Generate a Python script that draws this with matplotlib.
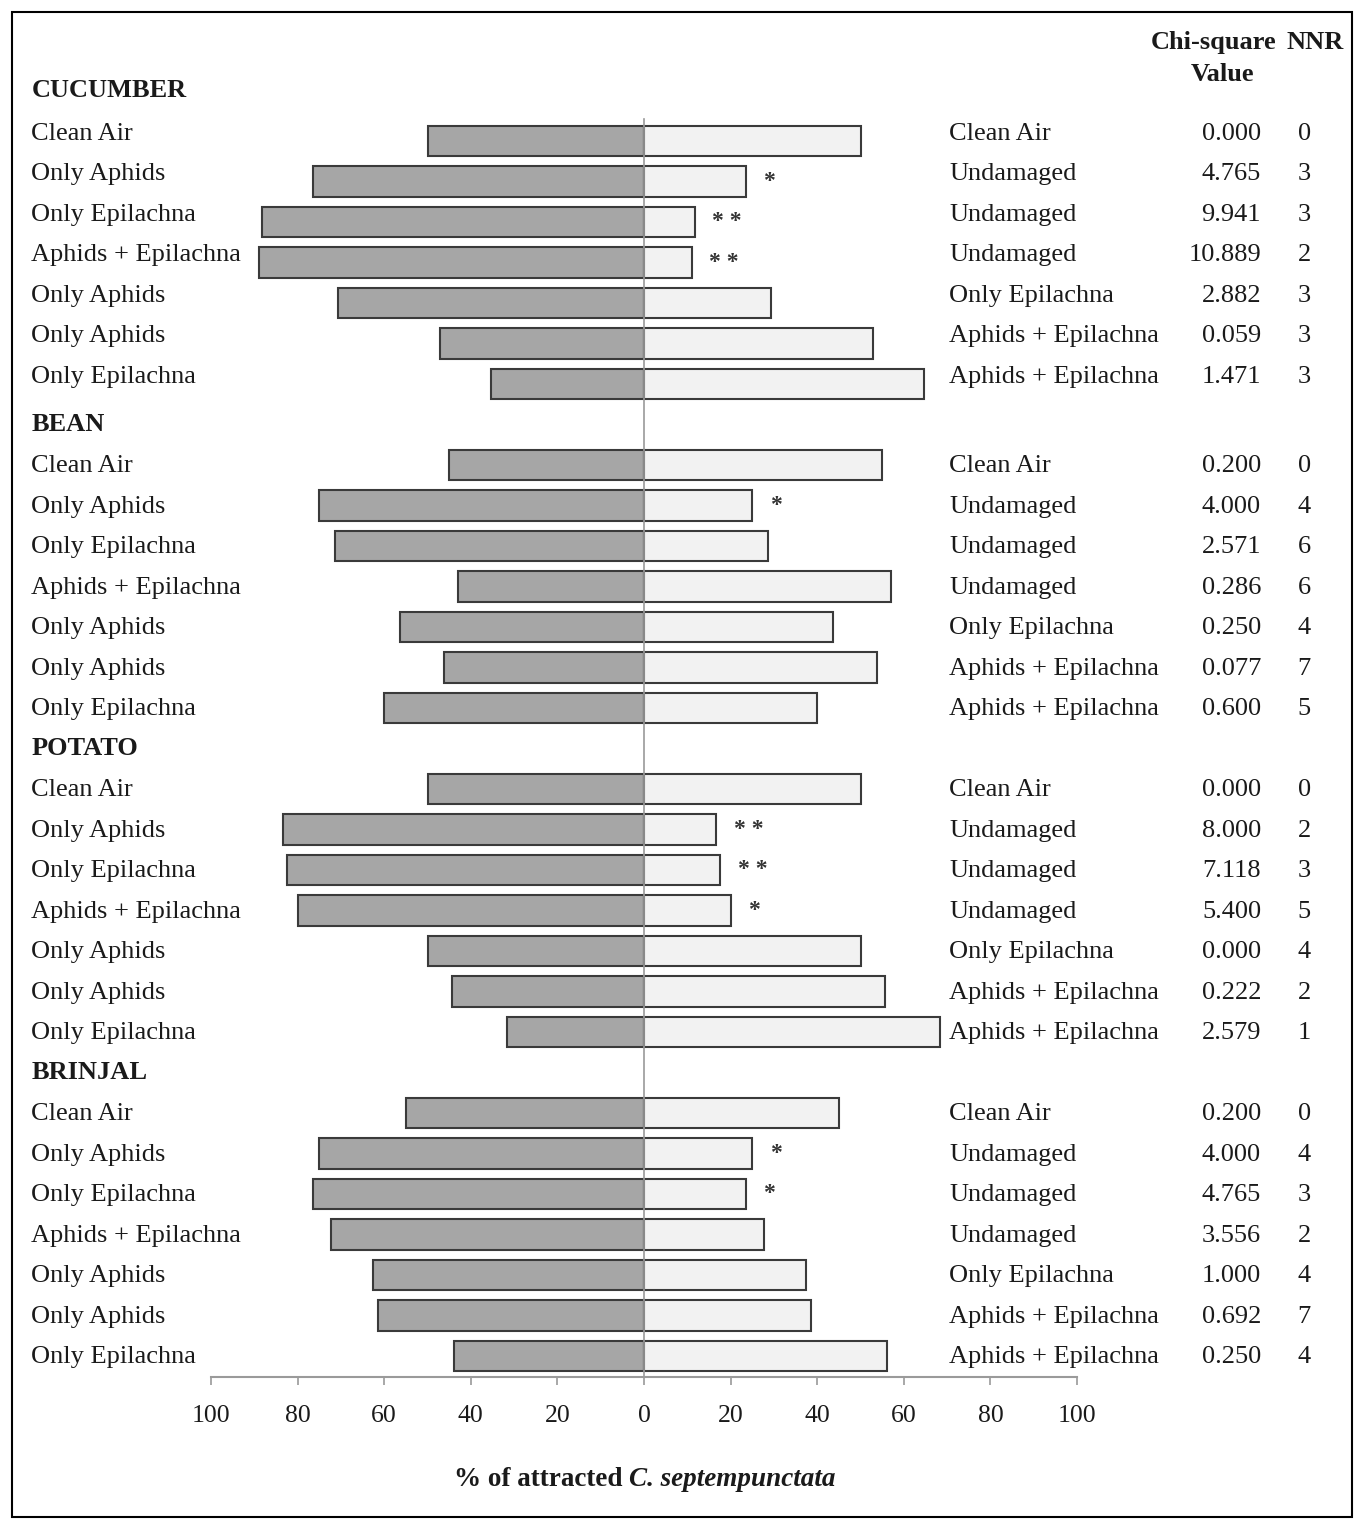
import matplotlib
matplotlib.use('Agg')
import matplotlib.pyplot as plt
from matplotlib.patches import Rectangle

plt.rcParams['font.family'] = ['Liberation Serif', 'DejaVu Serif']

# data (% of beetles choosing each odour)
crops = ['CUCUMBER', 'BEAN', 'POTATO', 'BRINJAL']
left_labels = ['Clean Air', 'Only Aphids', 'Only Epilachna', 'Aphids + Epilachna',
               'Only Aphids', 'Only Aphids', 'Only Epilachna']
right_labels = ['Clean Air', 'Undamaged', 'Undamaged', 'Undamaged',
                'Only Epilachna', 'Aphids + Epilachna', 'Aphids + Epilachna']

cucumber_left = [50, 76.5, 88.2, 88.9, 70.6, 47.1, 35.3]
cucumber_right = [50, 23.5, 11.8, 11.1, 29.4, 52.9, 64.7]
bean_left = [45, 75, 71.4, 42.9, 56.3, 46.2, 60]
bean_right = [55, 25, 28.6, 57.1, 43.7, 53.8, 40]
potato_left = [50, 83.3, 82.4, 80, 50, 44.4, 31.6]
potato_right = [50, 16.7, 17.6, 20, 50, 55.6, 68.4]
brinjal_left = [55, 75, 76.5, 72.2, 62.5, 61.5, 43.8]
brinjal_right = [45, 25, 23.5, 27.8, 37.5, 38.5, 56.2]

cucumber_chi = ['0.000', '4.765', '9.941', '10.889', '2.882', '0.059', '1.471']
bean_chi = ['0.200', '4.000', '2.571', '0.286', '0.250', '0.077', '0.600']
potato_chi = ['0.000', '8.000', '7.118', '5.400', '0.000', '0.222', '2.579']
brinjal_chi = ['0.200', '4.000', '4.765', '3.556', '1.000', '0.692', '0.250']

cucumber_nnr = [0, 3, 3, 2, 3, 3, 3]
bean_nnr = [0, 4, 6, 6, 4, 7, 5]
potato_nnr = [0, 2, 3, 5, 4, 2, 1]
brinjal_nnr = [0, 4, 3, 2, 4, 7, 4]

cucumber_sig = ['', '*', '**', '**', '', '', '']
bean_sig = ['', '*', '', '', '', '', '']
potato_sig = ['', '**', '**', '*', '', '', '']
brinjal_sig = ['', '*', '*', '', '', '', '']

lefts = [cucumber_left, bean_left, potato_left, brinjal_left]
rights = [cucumber_right, bean_right, potato_right, brinjal_right]
chis = [cucumber_chi, bean_chi, potato_chi, brinjal_chi]
nnrs = [cucumber_nnr, bean_nnr, potato_nnr, brinjal_nnr]
sigs = [cucumber_sig, bean_sig, potato_sig, brinjal_sig]

W, H = 1363, 1519
fig = plt.figure(figsize=(W / 100, H / 100), dpi=100)
ax = fig.add_axes([211 / W, 1 - 1377 / H, 866 / W, (1377 - 60) / H])

txt = '#1a1a1a'
fs = 19

for g in range(len(crops)):
    base = g * 8
    # the scanned text sits a bit higher in the first block
    dy = -0.18 if g == 0 else 0.03
    ax.text(-141.5, base - (0.25 if g == 0 else 0), crops[g], fontsize=fs, fontweight='bold',
            color=txt, ha='left', va='center', clip_on=False)
    ys = [base + 1 + i for i in range(7)]
    ax.barh(ys, [-v for v in lefts[g]], height=0.76, color='#a6a6a6',
            edgecolor='#3a3a3a', linewidth=1.5, zorder=2)
    ax.barh(ys, rights[g], height=0.76, color='#f2f2f2',
            edgecolor='#3a3a3a', linewidth=1.5, zorder=2)
    for i, y in enumerate(ys):
        ax.text(-141.5, y + dy, left_labels[i], fontsize=fs, color=txt,
                ha='left', va='center', clip_on=False)
        ax.text(70.5, y + dy, right_labels[i], fontsize=fs, color=txt,
                ha='left', va='center', clip_on=False)
        ax.text(142.5, y + dy, chis[g][i], fontsize=fs, color=txt,
                ha='right', va='center', clip_on=False)
        ax.text(152.5, y + dy, str(nnrs[g][i]), fontsize=fs, color=txt,
                ha='center', va='center', clip_on=False)
        if sigs[g][i]:
            ax.text(rights[g][i] + 4, y, ' '.join(sigs[g][i]), fontsize=17,
                    fontweight='bold', color='#333333',
                    ha='left', va='center', clip_on=False)

# column headers
ax.text(131.5, -1.44, 'Chi-square', fontsize=fs, fontweight='bold', color=txt,
        ha='center', va='center', clip_on=False)
ax.text(133.5, -0.65, 'Value', fontsize=fs, fontweight='bold', color=txt,
        ha='center', va='center', clip_on=False)
ax.text(155, -1.44, 'NNR', fontsize=fs, fontweight='bold', color=txt,
        ha='center', va='center', clip_on=False)

ax.axvline(0, ymin=0, ymax=(31.52 - 0.45) / 32.52, color='#9a9a9a', lw=1.2, zorder=3)

ax.set_xlim(-100, 100)
ax.set_ylim(31.52, -1.0)
ax.set_yticks([])
ticks = list(range(-100, 101, 20))
ax.set_xticks(ticks)
ax.set_xticklabels([str(abs(t)) for t in ticks], fontsize=18.5, color=txt)
ax.tick_params(axis='x', length=6, width=1.2, color='#9a9a9a', pad=14)
for s in ['top', 'left', 'right']:
    ax.spines[s].set_visible(False)
ax.spines['bottom'].set_color('#9a9a9a')
ax.spines['bottom'].set_linewidth(1.5)
ax.patch.set_alpha(0)

fig.text(623 / W, 1 - 1480 / H, '% of attracted', fontsize=19.5, fontweight='bold',
         color=txt, ha='right', va='center')
fig.text(629 / W, 1 - 1480 / H, 'C. septempunctata', fontsize=19.5, fontweight='bold',
         style='italic', color=txt, ha='left', va='center')

fig.patches.append(Rectangle((12 / W, 1 - 1517 / H), (1352 - 12) / W, (1517 - 12) / H,
                             transform=fig.transFigure, fill=False,
                             edgecolor='black', linewidth=1.5))

fig.savefig('out.png', dpi=100)
